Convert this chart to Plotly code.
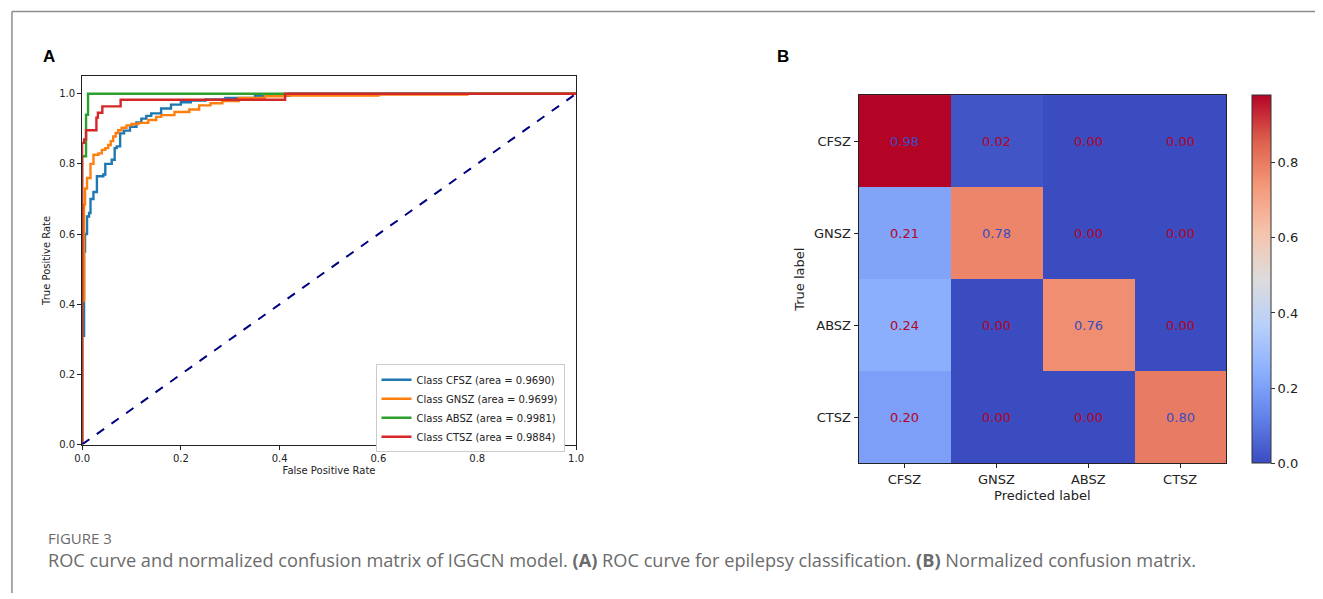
import plotly.graph_objects as go

W, H = 1323, 599

# ---------------- data ----------------
classes = ["CFSZ", "GNSZ", "ABSZ", "CTSZ"]
auc_values = [0.9690, 0.9699, 0.9981, 0.9884]
roc_colors = ["#1f77b4", "#ff7f0e", "#2ca02c", "#d62728"]

cfsz_fpr = [0, 0, 0.004, 0.006, 0.010, 0.014, 0.017, 0.023, 0.030, 0.043, 0.047, 0.060, 0.066, 0.070,
            0.077, 0.085, 0.097, 0.11, 0.12, 0.13, 0.14, 0.16, 0.18, 0.20, 0.22, 0.25, 0.29, 0.35, 0.42, 1.0]
cfsz_tpr = [0, 0.31, 0.55, 0.60, 0.65, 0.66, 0.70, 0.72, 0.765, 0.77, 0.80, 0.812, 0.845, 0.85,
            0.887, 0.895, 0.906, 0.918, 0.929, 0.937, 0.944, 0.958, 0.969, 0.976, 0.981, 0.984, 0.988, 0.994, 1.0, 1.0]

gnsz_fpr = [0, 0, 0.004, 0.006, 0.010, 0.017, 0.023, 0.033, 0.040, 0.047, 0.053, 0.058, 0.063, 0.068,
            0.073, 0.08, 0.09, 0.10, 0.114, 0.134, 0.15, 0.16, 0.187, 0.217, 0.237, 0.26, 0.284, 0.317,
            0.37, 0.41, 0.60, 0.78, 1.0]
gnsz_tpr = [0, 0.41, 0.684, 0.73, 0.76, 0.80, 0.826, 0.83, 0.84, 0.845, 0.854, 0.865, 0.878, 0.888,
            0.896, 0.903, 0.91, 0.914, 0.917, 0.925, 0.934, 0.939, 0.948, 0.955, 0.967, 0.973, 0.979, 0.988,
            0.993, 0.995, 0.998, 1.0, 1.0]

absz_fpr = [0, 0, 0.008, 0.012, 1.0]
absz_tpr = [0, 0.822, 0.94, 1.0, 1.0]

ctsz_fpr = [0, 0, 0.004, 0.008, 0.029, 0.032, 0.041, 0.078, 0.411, 1.0]
ctsz_tpr = [0, 0.86, 0.87, 0.896, 0.932, 0.946, 0.964, 0.983, 1.0, 1.0]

diag_x = [0, 1]
diag_y = [0, 1]

cm_labels = ["CFSZ", "GNSZ", "ABSZ", "CTSZ"]
cm_values = [
    [0.98, 0.02, 0.00, 0.00],
    [0.21, 0.78, 0.00, 0.00],
    [0.24, 0.00, 0.76, 0.00],
    [0.20, 0.00, 0.00, 0.80],
]
cbar_ticks = [0.0, 0.2, 0.4, 0.6, 0.8]
roc_ticks = [0.0, 0.2, 0.4, 0.6, 0.8, 1.0]

coolwarm = [
    [0.0, "#3b4cc0"], [0.125, "#6282ea"], [0.25, "#8db0fe"], [0.375, "#b8d0f9"],
    [0.5, "#dddcdc"], [0.625, "#f5c4ad"], [0.75, "#f49a7b"], [0.875, "#de604d"], [1.0, "#b40426"],
]

# ---------------- helpers ----------------
def px_x(p):
    return p / W

def px_y(p):
    return 1 - p / H

FONT = "DejaVu Sans"

fig = go.Figure()

roc_data = [(cfsz_fpr, cfsz_tpr), (gnsz_fpr, gnsz_tpr), (absz_fpr, absz_tpr), (ctsz_fpr, ctsz_tpr)]
for (fx, ty), name, auc, col in zip(roc_data, classes, auc_values, roc_colors):
    fig.add_trace(go.Scatter(
        x=fx, y=ty, mode="lines", line=dict(color=col, width=2.4, shape="hv"),
        name=f"Class {name} (area = {auc:.4f})", xaxis="x", yaxis="y"))

fig.add_trace(go.Scatter(x=diag_x, y=diag_y, mode="lines", showlegend=False,
                         line=dict(color="navy", width=2, dash="dash"), xaxis="x", yaxis="y"))

zmax = max(max(r) for r in cm_values)
fig.add_trace(go.Heatmap(
    z=cm_values, x=cm_labels, y=cm_labels, xaxis="x2", yaxis="y2",
    colorscale=coolwarm, zmin=0, zmax=zmax, showscale=True, hoverinfo="skip",
    colorbar=dict(
        x=px_x(1259), xanchor="left", xref="paper",
        y=px_y(282), yanchor="middle", yref="paper",
        len=372 / H, lenmode="fraction", thickness=19, thicknessmode="pixels",
        outlinewidth=1, outlinecolor="#333",
        tickvals=cbar_ticks, ticktext=[f"{v:.1f}" for v in cbar_ticks],
        ticks="outside", ticklen=4, tickcolor="#333",
        tickfont=dict(family=FONT, size=13, color="#222"), xpad=0, ypad=0,
    ),
))

annotations = []
thresh = zmax / 2
for i, row in enumerate(cm_values):
    for j, v in enumerate(row):
        annotations.append(dict(
            x=cm_labels[j], y=cm_labels[i], xref="x2", yref="y2", text=f"{v:.2f}",
            showarrow=False, font=dict(family=FONT, size=13,
                                       color="#3b4cc0" if v > thresh else "#b40426")))

annotations += [
    dict(x=px_x(33), y=px_y(57), xref="paper", yref="paper", text="<b>A</b>", showarrow=False,
         xanchor="left", yanchor="middle", font=dict(family="Liberation Sans", size=17, color="#000")),
    dict(x=px_x(776), y=px_y(57), xref="paper", yref="paper", text="<b>B</b>", showarrow=False,
         xanchor="left", yanchor="middle", font=dict(family="Liberation Sans", size=17, color="#000")),
    dict(x=px_x(38), y=px_y(543), xref="paper", yref="paper", text="FIGURE 3", showarrow=False,
         xanchor="left", yanchor="middle", font=dict(family="Open Sans", size=15, color="#6b6b6b")),
    dict(x=px_x(38), y=px_y(566), xref="paper", yref="paper",
         text="ROC curve and normalized confusion matrix of IGGCN model. <b>(A)</b> ROC curve for epilepsy classification. <b>(B)</b> Normalized confusion matrix.",
         showarrow=False, xanchor="left", yanchor="middle",
         font=dict(family="Open Sans", size=18.2, color="#6b6b6b")),
]

shapes = [
    dict(type="line", xref="paper", yref="paper", x0=px_x(4), x1=1, y0=px_y(11.5), y1=px_y(11.5),
         line=dict(color="#8c8c8c", width=1.5)),
    dict(type="line", xref="paper", yref="paper", x0=px_x(4), x1=px_x(4), y0=px_y(11.5), y1=0,
         line=dict(color="#8c8c8c", width=1.5)),
]

axis_common = dict(showgrid=False, zeroline=False, showline=True, linecolor="#222", linewidth=1,
                   mirror=True, ticks="outside", ticklen=4, tickcolor="#222")

fig.update_layout(
    width=W, height=H, margin=dict(l=0, r=0, t=0, b=0),
    paper_bgcolor="white", plot_bgcolor="white",
    font=dict(family=FONT, color="#222"),
    xaxis=dict(domain=[px_x(75), px_x(575)], range=[0, 1], anchor="y",
               tickvals=roc_ticks, ticktext=[f"{v:.1f}" for v in roc_ticks],
               tickfont=dict(size=10), title=dict(text="False Positive Rate", font=dict(size=10), standoff=4),
               **axis_common),
    yaxis=dict(domain=[px_y(449), px_y(77)], range=[0, 1.05], anchor="x",
               tickvals=roc_ticks, ticktext=[f"{v:.1f}" for v in roc_ticks],
               tickfont=dict(size=10), title=dict(text="True Positive Rate", font=dict(size=10), standoff=6),
               **axis_common),
    xaxis2=dict(domain=[px_x(861), px_x(1233)], anchor="y2", tickfont=dict(size=13),
                title=dict(text="Predicted label", font=dict(size=13), standoff=4),
                categoryorder="array", categoryarray=cm_labels, **axis_common),
    yaxis2=dict(domain=[px_y(468), px_y(96)], anchor="x2", tickfont=dict(size=13), autorange="reversed",
                title=dict(text="True label", font=dict(size=13), standoff=6),
                categoryorder="array", categoryarray=cm_labels, **axis_common),
    legend=dict(x=px_x(372), y=px_y(368), xanchor="left", yanchor="top",
                bgcolor="white", bordercolor="#cccccc", borderwidth=1,
                font=dict(family=FONT, size=10, color="#222"), tracegroupgap=0,
                itemwidth=30),
    annotations=annotations, shapes=shapes,
)

fig.write_html("out.html")
